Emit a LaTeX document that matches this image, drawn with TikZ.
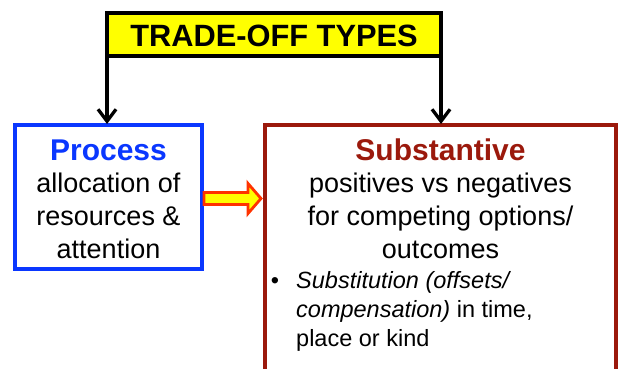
\documentclass[tikz,border=0pt]{standalone}
\usepackage{fontspec}
\setmainfont{Liberation Sans}
\usetikzlibrary{arrows.meta}
\definecolor{procblue}{RGB}{10,55,255}
\definecolor{subred}{RGB}{155,25,12}
\definecolor{arrred}{RGB}{255,51,0}
\definecolor{arryel}{RGB}{255,255,0}
\begin{document}
\begin{tikzpicture}[x=1pt,y=-1pt,
  boxline/.style={line width=3.3pt},
  titlefont/.style={font=\fontsize{30.8}{36}\selectfont\bfseries},
  headfont/.style={font=\fontsize{30}{36}\selectfont\bfseries},
  bodyfont/.style={font=\fontsize{27}{33}\selectfont},
  bulfont/.style={font=\fontsize{23.5}{29}\selectfont},
  txt/.style={anchor=base,inner sep=0pt},
  downarrow/.style={line width=3.3pt,-{Straight Barb[length=12pt,width=18pt,line width=3.3pt]}}]
\useasboundingbox (0,0) rectangle (621,369);
% top box
\draw[boxline,fill=arryel] (107,13) rectangle (441,56);
\coordinate (tl) at (107,56);
\coordinate (tr) at (441,56);
\node[txt,titlefont] (title) at (274,47) {TRADE-OFF TYPES};
% process box
\draw[boxline,draw=procblue] (15,125) rectangle (202,269);
\coordinate (ptop) at (107,124);
\node[txt,headfont,text=procblue] (proc) at (108.5,160) {Process};
\node[txt,bodyfont] (p1) at (108.5,192) {allocation of};
\node[txt,bodyfont] (p2) at (108.5,225) {resources \&};
\node[txt,bodyfont] (p3) at (108.5,258) {attention};
% substantive box
\draw[boxline,draw=subred] (265,400) -- (265,125) -- (616,125) -- (616,400);
\coordinate (stop) at (441,124);
\node[txt,headfont,text=subred] (subs) at (440.5,160) {Substantive};
\node[txt,bodyfont] (s1) at (440.5,192) {positives vs negatives};
\node[txt,bodyfont] (s2) at (440.5,225) {for competing options/};
\node[txt,bodyfont] (s3) at (440.5,258) {outcomes};
\node[txt,bulfont] (bul) at (275,288) {•};
\node[txt,bulfont,anchor=base west] (b1) at (296,288) {\itshape Substitution (offsets/};
\node[txt,bulfont,anchor=base west] (b2) at (296,317) {{\itshape compensation)} in time,};
\node[txt,bulfont,anchor=base west] (b3) at (296,346) {place or kind};
% arrows
\draw[downarrow] (tl) -- (ptop);
\draw[downarrow] (tr) -- (stop);
\draw[line width=2.8pt,draw=arrred,fill=arryel,line join=miter]
  (204,192.5) -- (248,192.5) -- (248,183.5) -- (261,198.5) -- (248,213.5) -- (248,204.5) -- (204,204.5) -- cycle;
\end{tikzpicture}
\end{document}
